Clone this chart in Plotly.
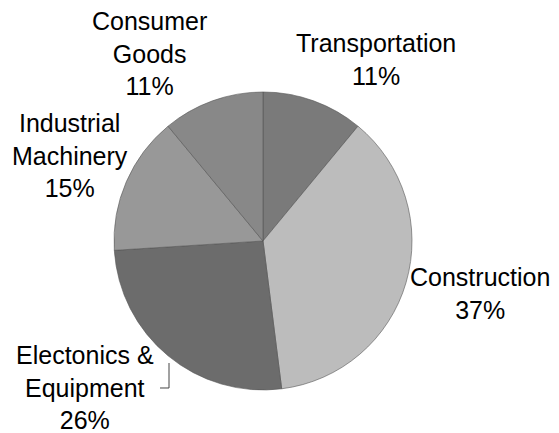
import plotly.graph_objects as go

categories = ["Transportation", "Construction", "Electronics & Equipment", "Industrial Machinery", "Consumer Goods"]
label_text = ["Transportation", "Construction", "Electonics &<br>Equipment", "Industrial<br>Machinery", "Consumer<br>Goods"]
shares = [11, 37, 26, 15, 11]
colors = ["#7a7a7a", "#bcbcbc", "#6c6c6c", "#989898", "#888888"]

# label anchor positions (paper coords) for each slice
label_pos = [(0.6670, 0.8800), (0.8575, 0.3294), (0.1397, 0.1082), (0.1125, 0.6541), (0.2577, 0.8929)]

fig = go.Figure(go.Pie(
    labels=categories,
    values=shares,
    sort=False,
    direction="clockwise",
    rotation=0,
    marker=dict(colors=colors, line=dict(color="#555555", width=0.6)),
    textinfo="none",
    hoverinfo="label+percent",
    showlegend=False,
    domain=dict(x=[0.1924, 0.7332], y=[0.1012, 0.8024]),
))

for txt, val, (x, y) in zip(label_text, shares, label_pos):
    fig.add_annotation(
        x=x, y=y, xref="paper", yref="paper",
        xanchor="center", yanchor="middle",
        text=f"{txt}<br>{val}%",
        showarrow=False, align="center",
        font=dict(family="Liberation Sans, Arial, sans-serif", size=25, color="#000000"),
    )

# leader line for Electronics label
fig.add_shape(type="path", xref="paper", yref="paper",
              path="M 0.2922,0.1647 L 0.2922,0.1059 L 0.2759,0.1059",
              line=dict(color="#444444", width=1))

fig.update_layout(
    width=551, height=425,
    margin=dict(l=0, r=0, t=0, b=0),
    paper_bgcolor="white", plot_bgcolor="white",
)

fig.write_html("out.html")
